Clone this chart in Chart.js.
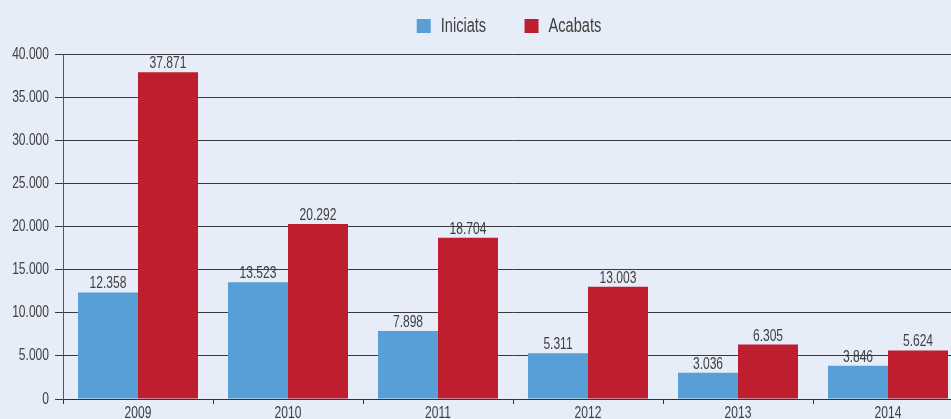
<!DOCTYPE html>
<html>
<head>
<meta charset="utf-8">
<script src="https://cdn.jsdelivr.net/npm/chart.js@4"></script>
<style>
  html, body { margin: 0; padding: 0; background: #e7edf8; overflow: hidden; }
  #wrap { width: 1018px; height: 419px; }
</style>
</head>
<body>
<div id="wrap"><canvas id="chart" width="1018" height="419"></canvas></div>
<script>
// chart data
const years = ['2009', '2010', '2011', '2012', '2013', '2014'];
const iniciats = [12358, 13523, 7898, 5311, 3036, 3846];
const acabats = [37871, 20292, 18704, 13003, 6305, 5624];

const FONT = "'Liberation Sans', Arial, sans-serif";
const TEXT = '#404040';
const SQUEEZE = 0.73; // the original uses a condensed face

// squeeze all canvas text horizontally to get a condensed look
const origFill = CanvasRenderingContext2D.prototype.fillText;
CanvasRenderingContext2D.prototype.fillText = function (t, x, y, mw) {
  this.save();
  this.translate(x, y);
  this.scale(SQUEEZE, 1);
  origFill.call(this, t, 0, 0, mw);
  this.restore();
};
const origMeasure = CanvasRenderingContext2D.prototype.measureText;
CanvasRenderingContext2D.prototype.measureText = function (t) {
  const m = origMeasure.call(this, t);
  return {
    width: m.width * SQUEEZE,
    actualBoundingBoxAscent: m.actualBoundingBoxAscent,
    actualBoundingBoxDescent: m.actualBoundingBoxDescent,
    actualBoundingBoxLeft: m.actualBoundingBoxLeft * SQUEEZE,
    actualBoundingBoxRight: m.actualBoundingBoxRight * SQUEEZE
  };
};

function fmt(v) {
  return String(v).replace(/\B(?=(\d{3})+(?!\d))/g, '.');
}

// value labels above each bar
const barLabels = {
  id: 'barLabels',
  afterDatasetsDraw(chart) {
    const ctx = chart.ctx;
    ctx.save();
    ctx.font = '16.5px ' + FONT;
    ctx.fillStyle = TEXT;
    ctx.textAlign = 'center';
    ctx.textBaseline = 'alphabetic';
    chart.data.datasets.forEach((ds, i) => {
      chart.getDatasetMeta(i).data.forEach((bar, j) => {
        ctx.fillText(fmt(ds.data[j]), bar.x, bar.y - 4);
      });
    });
    ctx.restore();
  }
};

// legend takes the space down to the top gridline
const legendHeight = {
  id: 'legendHeight',
  beforeInit(chart) {
    const fit = chart.legend.fit;
    chart.legend.fit = function () {
      fit.call(this);
      this.height = 48;
    };
  }
};

new Chart(document.getElementById('chart'), {
  type: 'bar',
  data: {
    labels: years,
    datasets: [
      { label: 'Iniciats', data: iniciats, backgroundColor: '#579fd6' },
      { label: 'Acabats', data: acabats, backgroundColor: '#be1e2d' }
    ]
  },
  options: {
    responsive: false,
    animation: false,
    categoryPercentage: 0.8,
    barPercentage: 1.0,
    layout: { padding: { top: 6, right: 0, left: 0, bottom: 0 } },
    plugins: {
      legend: {
        labels: {
          boxWidth: 14,
          boxHeight: 14,
          padding: 10,
          color: TEXT,
          font: { family: FONT, size: 20 },
          generateLabels(chart) {
            const items = Chart.defaults.plugins.legend.labels.generateLabels(chart);
            items[0].text = items[0].text + '       ';
            return items;
          }
        }
      },
      tooltip: { enabled: false }
    },
    scales: {
      x: {
        afterFit(scale) { scale.height = 20; },
        grid: { drawOnChartArea: false, tickLength: 5, color: '#333' },
        border: { color: '#333' },
        ticks: { color: TEXT, padding: 0, font: { family: FONT, size: 16.5 } }
      },
      y: {
        min: 0,
        max: 40000,
        afterFit(scale) { scale.width = 63; },
        grid: { color: '#3a3a3a', tickLength: 8 },
        border: { color: '#555' },
        ticks: {
          stepSize: 5000,
          padding: 6,
          color: TEXT,
          font: { family: FONT, size: 16.5 },
          callback: v => fmt(v)
        }
      },
      // empty right-hand box so the plot runs off the visible edge
      pad: {
        type: 'linear',
        position: 'right',
        afterFit(scale) { scale.width = 55; },
        grid: { display: false },
        border: { display: false },
        ticks: { display: false }
      }
    }
  },
  plugins: [barLabels, legendHeight]
});
</script>
</body>
</html>
